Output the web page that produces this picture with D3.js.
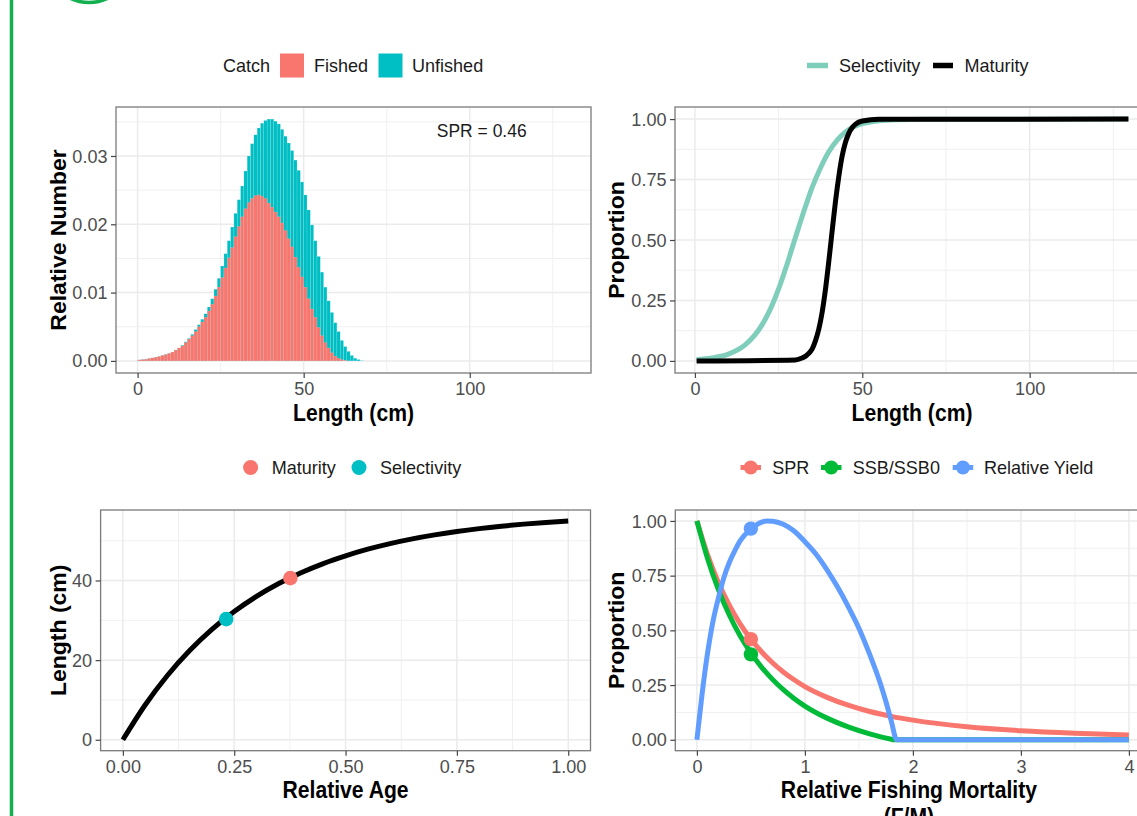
<!DOCTYPE html>
<html><head><meta charset="utf-8">
<script src="https://cdn.jsdelivr.net/npm/d3@7"></script>
<style>body{margin:0;background:#fff} svg{display:block}</style>
</head><body>
<svg id="chart" width="1137" height="816"></svg>
<script>
// ---------------- DATA ----------------
// Panel 1: length-frequency (bins of 1 cm, midpoints)
const lengthBins = [0.5,1.5,2.5,3.5,4.5,5.5,6.5,7.5,8.5,9.5,10.5,11.5,12.5,13.5,14.5,15.5,16.5,17.5,18.5,19.5,
  20.5,21.5,22.5,23.5,24.5,25.5,26.5,27.5,28.5,29.5,30.5,31.5,32.5,33.5,34.5,35.5,36.5,37.5,38.5,39.5,
  40.5,41.5,42.5,43.5,44.5,45.5,46.5,47.5,48.5,49.5,50.5,51.5,52.5,53.5,54.5,55.5,56.5,57.5,58.5,59.5,
  60.5,61.5,62.5,63.5,64.5,65.5,66.5,67.5];
const unfished = [0.00015,0.0002,0.00025,0.00035,0.00045,0.00055,0.00065,0.0008,0.00095,0.0011,
  0.0013,0.0016,0.0019,0.0023,0.0028,0.0033,0.0039,0.0046,0.0053,0.0061,
  0.0069,0.0079,0.0091,0.0105,0.0121,0.0139,0.0157,0.0176,0.0196,0.0216,
  0.0236,0.0256,0.0278,0.0300,0.0318,0.0331,0.0341,0.0348,0.0352,0.0354,
  0.0354,0.0351,0.0347,0.0339,0.0329,0.0319,0.0308,0.0294,0.0279,0.0262,
  0.0243,0.0221,0.0199,0.0176,0.0153,0.0130,0.0108,0.0088,0.0071,0.0056,
  0.0043,0.0030,0.0021,0.0014,0.0008,0.0004,0.0002,0.00005];
const fished = [0.00015,0.0002,0.00025,0.00035,0.00045,0.00055,0.00065,0.0008,0.00095,0.0011,
  0.0013,0.0016,0.0019,0.0022,0.0027,0.0032,0.0037,0.0043,0.0050,0.0057,
  0.0064,0.0073,0.0083,0.0095,0.0108,0.0122,0.0136,0.0151,0.0166,0.0182,
  0.0197,0.0211,0.0223,0.0232,0.0238,0.0242,0.0243,0.0241,0.0238,0.0231,
  0.0225,0.0218,0.0211,0.0202,0.0191,0.0179,0.0167,0.0152,0.0137,0.0123,
  0.0108,0.0091,0.0076,0.0064,0.0049,0.0037,0.0027,0.0019,0.0012,0.0007,
  0.0004,0.0002,0.0001,0,0,0,0,0];
const lengthLimits = [0, 130];
const sprLabel = "SPR = 0.46";

// Panel 2: selectivity & maturity at length
const selLen = [0.5,5,10,15,20,22.5,25,27.5,30,32.5,35,37.5,40,42.5,45,47.5,50,55,60,70,129.5];
const selVal = [0.005,0.012,0.028,0.066,0.148,0.213,0.298,0.399,0.509,0.617,0.717,0.798,0.865,0.913,0.947,0.968,0.981,0.993,0.997,0.999,1.0];
const matLen = [0.5,30,32,33,34,35,36,37,38,39,40,41,42,43,44,45,46,47,48,50,55,129.5];
const matVal = [0,0.004,0.012,0.019,0.031,0.049,0.083,0.131,0.201,0.296,0.412,0.538,0.66,0.764,0.848,0.905,0.942,0.965,0.979,0.992,0.999,1];

// Panel 3: growth curve
const relAge = [0,0.05,0.1,0.15,0.2,0.25,0.3,0.35,0.4,0.45,0.5,0.55,0.6,0.65,0.7,0.75,0.8,0.85,0.9,0.95,1.0];
const lenAtAge = [0,8.74,16.15,22.41,27.72,32.2,36.01,39.23,41.95,44.26,46.2,47.87,49.27,50.46,51.46,52.31,53.03,53.64,54.16,54.59,54.96];
const growthPoints = [{name:"Maturity", age:0.376, len:40.6}, {name:"Selectivity", age:0.232, len:30.3}];

// Panel 4: SPR, SSB/SSB0, relative yield vs F/M
const sprFM  = [0,0.1,0.2,0.3,0.4,0.5,0.6,0.7,0.8,0.9,1.0,1.2,1.4,1.6,1.8,2.0,2.5,3.0,3.5,4.0];
const sprVal = [1.0,0.844,0.718,0.615,0.530,0.460,0.401,0.352,0.310,0.274,0.243,0.195,0.158,0.129,0.107,0.0896,0.0595,0.0412,0.0296,0.0218];
const ssbFM  = [0,0.1,0.2,0.3,0.4,0.5,0.6,0.7,0.8,0.9,1.0,1.2,1.4,1.6,1.8,1.82,2.5,4.0];
const ssbVal = [1.0,0.826,0.685,0.570,0.475,0.397,0.331,0.276,0.229,0.189,0.154,0.100,0.059,0.027,0.002,0,0,0];
const yldFM  = [0,0.05,0.1,0.15,0.2,0.25,0.3,0.35,0.4,0.5,0.6,0.65,0.7,0.8,0.9,1.0,1.1,1.2,1.3,1.4,1.5,1.6,1.7,1.75,1.8,1.85,2.0,3.0,4.0];
const yldVal = [0,0.217,0.40,0.544,0.65,0.742,0.81,0.863,0.909,0.962,0.995,1.0,0.999,0.985,0.954,0.905,0.85,0.78,0.70,0.61,0.51,0.39,0.255,0.175,0.085,0,0,0,0];
const currentFM = 0.5;
const currentVals = {SPR:0.46, SSB:0.39, Yield:0.965};

// ---------------- DRAWING ----------------
const FONT = '"Liberation Sans", Arial, Helvetica, sans-serif';
const RED = "#F8766D", TEAL = "#00BFC4", GREEN = "#00BA38", BLUE = "#619CFF", SELC = "#7fcdbb";
const svg = d3.select("#chart");
svg.append("rect").attr("width",1137).attr("height",816).attr("fill","#fff");

// page decoration (app frame)
svg.append("line").attr("x1",11.5).attr("x2",11.5).attr("y1",0).attr("y2",816)
  .attr("stroke","#13b04f").attr("stroke-width",3.5);
svg.append("circle").attr("cx",89).attr("cy",-40).attr("r",42.5)
  .attr("fill","none").attr("stroke","#13b04f").attr("stroke-width",3.5);

function txt(g, x, y, s, o = {}) {
  return g.append("text")
    .attr("transform", `translate(${x},${y}) scale(${o.sx || 0.95},1)` + (o.rot ? ` rotate(${o.rot})` : ""))
    .attr("text-anchor", o.anchor || "start")
    .attr("font-family", FONT)
    .attr("font-size", o.size || 19)
    .attr("font-weight", o.bold ? "bold" : "normal")
    .attr("fill", o.fill || "#1a1a1a")
    .attr("dy", o.dy === undefined ? "0.35em" : o.dy)
    .text(s);
}

function frame(p, x, y, xt, yt, xminor, yminor) {
  const g = svg.append("g");
  g.selectAll(".gxm").data(xminor).join("line")
    .attr("x1", d => x(d)).attr("x2", d => x(d)).attr("y1", p.t).attr("y2", p.b)
    .attr("stroke", "#F0F0F0").attr("stroke-width", 1);
  g.selectAll(".gym").data(yminor).join("line")
    .attr("y1", d => y(d)).attr("y2", d => y(d)).attr("x1", p.l).attr("x2", p.r)
    .attr("stroke", "#F0F0F0").attr("stroke-width", 1);
  g.selectAll(".gx").data(xt).join("line")
    .attr("x1", d => x(d)).attr("x2", d => x(d)).attr("y1", p.t).attr("y2", p.b)
    .attr("stroke", "#EBEBEB").attr("stroke-width", 1.5);
  g.selectAll(".gy").data(yt).join("line")
    .attr("y1", d => y(d)).attr("y2", d => y(d)).attr("x1", p.l).attr("x2", p.r)
    .attr("stroke", "#EBEBEB").attr("stroke-width", 1.5);
  return g;
}

function finish(p, x, y, xt, yt, xfmt, yfmt) {
  svg.append("rect").attr("x", p.l).attr("y", p.t).attr("width", p.r - p.l).attr("height", p.b - p.t)
    .attr("fill", "none").attr("stroke", "#7a7a7a").attr("stroke-width", 1.3);
  const ax = svg.append("g").attr("transform", `translate(0,${p.b})`)
    .call(d3.axisBottom(x).tickValues(xt).tickFormat(xfmt).tickSize(5).tickPadding(4));
  const ay = svg.append("g").attr("transform", `translate(${p.l},0)`)
    .call(d3.axisLeft(y).tickValues(yt).tickFormat(yfmt).tickSize(5).tickPadding(4));
  [ax, ay].forEach(a => {
    a.select(".domain").remove();
    a.attr("font-family", FONT).attr("font-size", 19);
    a.selectAll(".tick line").attr("stroke", "#444").attr("stroke-width", 1.2);
    a.selectAll(".tick text").attr("fill", "#4D4D4D").attr("transform", "scale(0.95,1)");
  });
}

// ---------- Panel 1 ----------
const p1 = {l:116, r:591, t:107, b:373};
const maxN = d3.max(unfished);
const x1 = d3.scaleLinear().domain([lengthLimits[0] - 0.05*(lengthLimits[1]-lengthLimits[0]), lengthLimits[1] + 0.05*(lengthLimits[1]-lengthLimits[0])]).range([p1.l, p1.r]);
const y1 = d3.scaleLinear().domain([-0.05*maxN, 1.05*maxN]).range([p1.b, p1.t]);
const x1t = [0,50,100], y1t = [0,0.01,0.02,0.03];
frame(p1, x1, y1, x1t, y1t, [25,75,125], [0.005,0.015,0.025,0.035]);
const bars = lengthBins.map((m,i) => ({m, u:unfished[i], f:fished[i]}));
svg.append("g").selectAll("rect").data(bars).join("rect")
  .attr("x", d => x1(d.m - 0.5)).attr("width", d => x1(d.m + 0.5) - x1(d.m - 0.5))
  .attr("y", d => y1(d.u)).attr("height", d => y1(0) - y1(d.u)).attr("fill", TEAL)
  .attr("stroke", "#fff").attr("stroke-opacity", 0.3).attr("stroke-width", 0.4);
svg.append("g").selectAll("rect").data(bars.filter(d => d.f > 0)).join("rect")
  .attr("x", d => x1(d.m - 0.5)).attr("width", d => x1(d.m + 0.5) - x1(d.m - 0.5))
  .attr("y", d => y1(d.f)).attr("height", d => y1(0) - y1(d.f)).attr("fill", RED)
  .attr("stroke", "#fff").attr("stroke-opacity", 0.3).attr("stroke-width", 0.4);
txt(svg, x1(103.6), y1(0.0337), sprLabel, {anchor:"middle", sx:0.92});
finish(p1, x1, y1, x1t, y1t, d3.format("d"), d3.format(".2f"));
txt(svg, (p1.l+p1.r)/2, 421, "Length (cm)", {anchor:"middle", bold:true, size:23, sx:0.92, dy:0, fill:"#000"});
txt(svg, 66, (p1.t+p1.b)/2, "Relative Number", {anchor:"middle", bold:true, size:23, sx:0.92, rot:-90, dy:0, fill:"#000"});
// legend
txt(svg, 223, 65.5, "Catch");
svg.append("rect").attr("x",280).attr("y",53.5).attr("width",24).attr("height",24).attr("fill",RED);
txt(svg, 314, 65.5, "Fished");
svg.append("rect").attr("x",378.5).attr("y",53.5).attr("width",24).attr("height",24).attr("fill",TEAL);
txt(svg, 412, 65.5, "Unfished");

// ---------- Panel 2 ----------
const p2 = {l:675, r:1150, t:107, b:373};
const lr = [selLen[0], selLen[selLen.length-1]];
const x2 = d3.scaleLinear().domain([lr[0] - 0.05*(lr[1]-lr[0]), lr[1] + 0.05*(lr[1]-lr[0])]).range([p2.l, p2.r]);
const y2 = d3.scaleLinear().domain([-0.05, 1.05]).range([p2.b, p2.t]);
const x2t = [0,50,100], y2t = [0,0.25,0.5,0.75,1];
frame(p2, x2, y2, x2t, y2t, [25,75,125], [0.125,0.375,0.625,0.875]);
const line2 = d3.line().x(d => x2(d[0])).y(d => y2(d[1])).curve(d3.curveMonotoneX);
svg.append("path").attr("d", line2(selLen.map((l,i) => [l, selVal[i]])))
  .attr("fill","none").attr("stroke",SELC).attr("stroke-width",5);
svg.append("path").attr("d", line2(matLen.map((l,i) => [l, matVal[i]])))
  .attr("fill","none").attr("stroke","#000").attr("stroke-width",5);
finish(p2, x2, y2, x2t, y2t, d3.format("d"), d3.format(".2f"));
txt(svg, (675+1150)/2 - 0.5, 421, "Length (cm)", {anchor:"middle", bold:true, size:23, sx:0.92, dy:0, fill:"#000"});
txt(svg, 624, (p2.t+p2.b)/2, "Proportion", {anchor:"middle", bold:true, size:23, sx:0.92, rot:-90, dy:0, fill:"#000"});
svg.append("line").attr("x1",807).attr("x2",828).attr("y1",65.5).attr("y2",65.5).attr("stroke",SELC).attr("stroke-width",5.5);
txt(svg, 839, 65.5, "Selectivity");
svg.append("line").attr("x1",933).attr("x2",953).attr("y1",65.5).attr("y2",65.5).attr("stroke","#000").attr("stroke-width",5.5);
txt(svg, 964.5, 65.5, "Maturity");

// ---------- Panel 3 ----------
const p3 = {l:100.6, r:590.5, t:510, b:750.7};
const maxL = d3.max(lenAtAge);
const x3 = d3.scaleLinear().domain([-0.05, 1.05]).range([p3.l, p3.r]);
const y3 = d3.scaleLinear().domain([-0.05*maxL, 1.05*maxL]).range([p3.b, p3.t]);
const x3t = [0,0.25,0.5,0.75,1], y3t = [0,20,40];
frame(p3, x3, y3, x3t, y3t, [0.125,0.375,0.625,0.875], [10,30,50]);
const line3 = d3.line().x(d => x3(d[0])).y(d => y3(d[1])).curve(d3.curveMonotoneX);
svg.append("path").attr("d", line3(relAge.map((a,i) => [a, lenAtAge[i]])))
  .attr("fill","none").attr("stroke","#000").attr("stroke-width",5);
svg.append("g").selectAll("circle").data(growthPoints).join("circle")
  .attr("cx", d => x3(d.age)).attr("cy", d => y3(d.len)).attr("r", 7.3)
  .attr("fill", d => d.name === "Maturity" ? RED : TEAL);
finish(p3, x3, y3, x3t, y3t, d3.format(".2f"), d3.format("d"));
txt(svg, (p3.l+p3.r)/2, 798, "Relative Age", {anchor:"middle", bold:true, size:23, sx:0.92, dy:0, fill:"#000"});
txt(svg, 66, (p3.t+p3.b)/2, "Length (cm)", {anchor:"middle", bold:true, size:23, sx:0.92, rot:-90, dy:0, fill:"#000"});
svg.append("circle").attr("cx",250.6).attr("cy",467.5).attr("r",7.5).attr("fill",RED);
txt(svg, 271.7, 467.5, "Maturity");
svg.append("circle").attr("cx",359).attr("cy",467.5).attr("r",7.5).attr("fill",TEAL);
txt(svg, 380, 467.5, "Selectivity");

// ---------- Panel 4 ----------
const p4 = {l:675.3, r:1150.5, t:510, b:750.7};
const x4 = d3.scaleLinear().domain([-0.2, 4.2]).range([p4.l, p4.r]);
const y4 = d3.scaleLinear().domain([-0.05, 1.05]).range([p4.b, p4.t]);
const x4t = [0,1,2,3,4], y4t = [0,0.25,0.5,0.75,1];
frame(p4, x4, y4, x4t, y4t, [0.5,1.5,2.5,3.5], [0.125,0.375,0.625,0.875]);
const line4 = d3.line().x(d => x4(d[0])).y(d => y4(d[1])).curve(d3.curveMonotoneX);
svg.append("path").attr("d", line4(sprFM.map((f,i) => [f, sprVal[i]])))
  .attr("fill","none").attr("stroke",RED).attr("stroke-width",5);
svg.append("path").attr("d", line4(ssbFM.map((f,i) => [f, ssbVal[i]])))
  .attr("fill","none").attr("stroke",GREEN).attr("stroke-width",5);
svg.append("path").attr("d", line4(yldFM.map((f,i) => [f, yldVal[i]])))
  .attr("fill","none").attr("stroke",BLUE).attr("stroke-width",5);
const cur = [{v:currentVals.SPR, c:RED}, {v:currentVals.SSB, c:GREEN}, {v:currentVals.Yield, c:BLUE}];
svg.append("g").selectAll("circle").data(cur).join("circle")
  .attr("cx", x4(currentFM)).attr("cy", d => y4(d.v)).attr("r", 7.2).attr("fill", d => d.c);
finish(p4, x4, y4, x4t, y4t, d3.format("d"), d3.format(".2f"));
txt(svg, (p4.l+p4.r)/2 - 4, 798, "Relative Fishing Mortality", {anchor:"middle", bold:true, size:23, sx:0.92, dy:0, fill:"#000"});
txt(svg, (p4.l+p4.r)/2 - 4, 825, "(F/M)", {anchor:"middle", bold:true, size:23, sx:0.92, dy:0, fill:"#000"});
txt(svg, 624, (p4.t+p4.b)/2, "Proportion", {anchor:"middle", bold:true, size:23, sx:0.92, rot:-90, dy:0, fill:"#000"});
const leg4 = [{x:740.5, t:"SPR", c:RED, tx:772.3}, {x:821, t:"SSB/SSB0", c:GREEN, tx:852.7}, {x:952.7, t:"Relative Yield", c:BLUE, tx:984}];
leg4.forEach(d => {
  svg.append("line").attr("x1",d.x).attr("x2",d.x+20.5).attr("y1",467.5).attr("y2",467.5).attr("stroke",d.c).attr("stroke-width",5);
  svg.append("circle").attr("cx",d.x+10.25).attr("cy",467.5).attr("r",7).attr("fill",d.c);
  txt(svg, d.tx, 467.5, d.t);
});
</script>
</body></html>
